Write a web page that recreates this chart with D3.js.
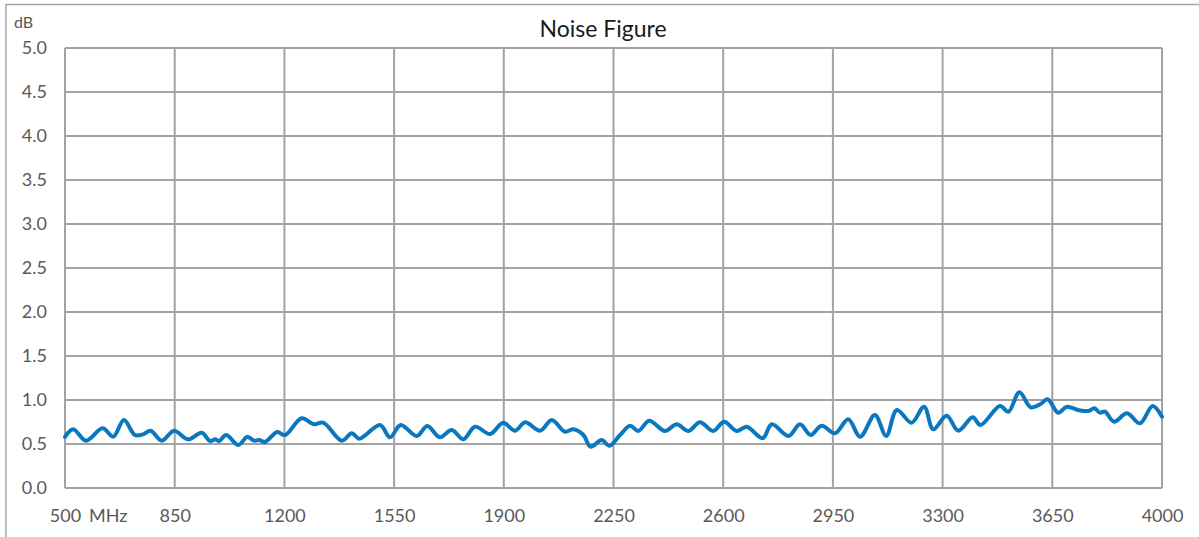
<!DOCTYPE html>
<html>
<head>
<meta charset="utf-8">
<script src="https://cdn.jsdelivr.net/npm/d3@7"></script>
<style>
  html, body { margin: 0; padding: 0; background: #fff; }
  svg { display: block; }
  text { font-family: Lato, "Open Sans", sans-serif; }
</style>
</head>
<body>
<svg id="chart" width="1199" height="537"></svg>
<script>
const title = "Noise Figure";
const yUnit = "dB";
const xUnit = "MHz";
const xTicks = [500, 850, 1200, 1550, 1900, 2250, 2600, 2950, 3300, 3650, 4000];
const yTicks = [0, 0.5, 1.0, 1.5, 2.0, 2.5, 3.0, 3.5, 4.0, 4.5, 5.0];

const freq = [500, 526, 567, 620, 654, 688, 723, 749, 773, 809, 848, 893, 936, 963, 979, 992, 1014, 1053,
  1082, 1103, 1120, 1138, 1177, 1202, 1255, 1294, 1324, 1383, 1415, 1439, 1505, 1537, 1571, 1622,
  1656, 1696, 1734, 1771, 1808, 1856, 1898, 1936, 1968, 2016, 2053, 2095, 2122, 2154, 2177, 2212,
  2237, 2271, 2303, 2329, 2364, 2414, 2452, 2489, 2526, 2568, 2603, 2643, 2675, 2726, 2755,
  2808, 2845, 2879, 2914, 2957, 2999, 3037, 3084, 3120, 3154, 3201, 3241, 3270, 3313, 3350,
  3396, 3421, 3483, 3510, 3545, 3581, 3611, 3635, 3669, 3696, 3733, 3765, 3784, 3802, 3818,
  3847, 3888, 3930, 3970, 4000];
const nf = [0.58, 0.667, 0.538, 0.678, 0.583, 0.773, 0.602, 0.61, 0.651, 0.538, 0.651, 0.553, 0.628, 0.534, 0.553, 0.534, 0.602, 0.489,
  0.583, 0.538, 0.545, 0.523, 0.636, 0.602, 0.792, 0.724, 0.742, 0.538, 0.622, 0.56, 0.716, 0.576, 0.716, 0.591,
  0.705, 0.576, 0.659, 0.553, 0.697, 0.614, 0.742, 0.651, 0.747, 0.651, 0.773, 0.64, 0.667, 0.602, 0.469, 0.545,
  0.48, 0.602, 0.708, 0.648, 0.765, 0.648, 0.724, 0.648, 0.747, 0.648, 0.753, 0.648, 0.697, 0.565, 0.724,
  0.591, 0.724, 0.602, 0.708, 0.622, 0.781, 0.583, 0.83, 0.591, 0.886, 0.742, 0.924, 0.667, 0.822, 0.651,
  0.803, 0.716, 0.932, 0.867, 1.088, 0.917, 0.951, 1.008, 0.856, 0.924, 0.886, 0.875, 0.906, 0.856, 0.867,
  0.753, 0.849, 0.735, 0.932, 0.81];

const data = freq.map((f, i) => ({ f, v: nf[i] }));

const svg = d3.select("#chart");
const margin = { left: 65, right: 1162, top: 48, bottom: 488 };

const x = d3.scaleLinear().domain([500, 4000]).range([margin.left, margin.right]);
const y = d3.scaleLinear().domain([0, 5]).range([margin.bottom, margin.top]);

// outer chart border (left + top visible)
svg.append("path")
  .attr("d", `M6,537 L6,4.5 L1199,4.5`)
  .attr("fill", "none")
  .attr("stroke", "#a6a6a6")
  .attr("stroke-width", 1.5);

// title
svg.append("text")
  .attr("x", 603).attr("y", 37)
  .attr("text-anchor", "middle")
  .attr("font-size", 23)
  .attr("fill", "#1a1a1a")
  .text(title);

// grid
const grid = svg.append("g").attr("stroke", "#a3a3a3").attr("stroke-width", 2);
grid.selectAll("line.h").data(yTicks).join("line")
  .attr("x1", margin.left).attr("x2", margin.right)
  .attr("y1", d => y(d)).attr("y2", d => y(d));
grid.selectAll("line.v").data(xTicks).join("line")
  .attr("y1", margin.top).attr("y2", margin.bottom)
  .attr("x1", d => x(d)).attr("x2", d => x(d));

// y axis labels
const yAxis = d3.axisLeft(y).tickValues(yTicks).tickFormat(d3.format(".1f")).tickSize(0).tickPadding(18);
const gy = svg.append("g").attr("transform", `translate(${margin.left},0)`).call(yAxis);
gy.select(".domain").remove();
gy.selectAll("text").attr("font-size", 18).attr("fill", "#595959").attr("font-family", "Lato, 'Open Sans', sans-serif");

// x axis labels
const xAxis = d3.axisBottom(x).tickValues(xTicks).tickFormat(d3.format("d")).tickSize(0).tickPadding(21);
const gx = svg.append("g").attr("transform", `translate(0,${margin.bottom})`).call(xAxis);
gx.select(".domain").remove();
gx.selectAll("text").attr("font-size", 18).attr("fill", "#595959").attr("font-family", "Lato, 'Open Sans', sans-serif");

// units
svg.append("text").attr("x", 14).attr("y", 28).attr("font-size", 16).attr("fill", "#595959").text(yUnit);
svg.append("text").attr("x", 89).attr("y", 522).attr("font-size", 18).attr("fill", "#595959").text(xUnit);

// line
const line = d3.line().x(d => x(d.f)).y(d => y(d.v)).curve(d3.curveCatmullRom.alpha(0.5));
svg.append("path")
  .datum(data)
  .attr("fill", "none")
  .attr("stroke", "#0a77be")
  .attr("stroke-width", 4)
  .attr("stroke-linejoin", "round")
  .attr("stroke-linecap", "round")
  .attr("d", line);
</script>
</body>
</html>
